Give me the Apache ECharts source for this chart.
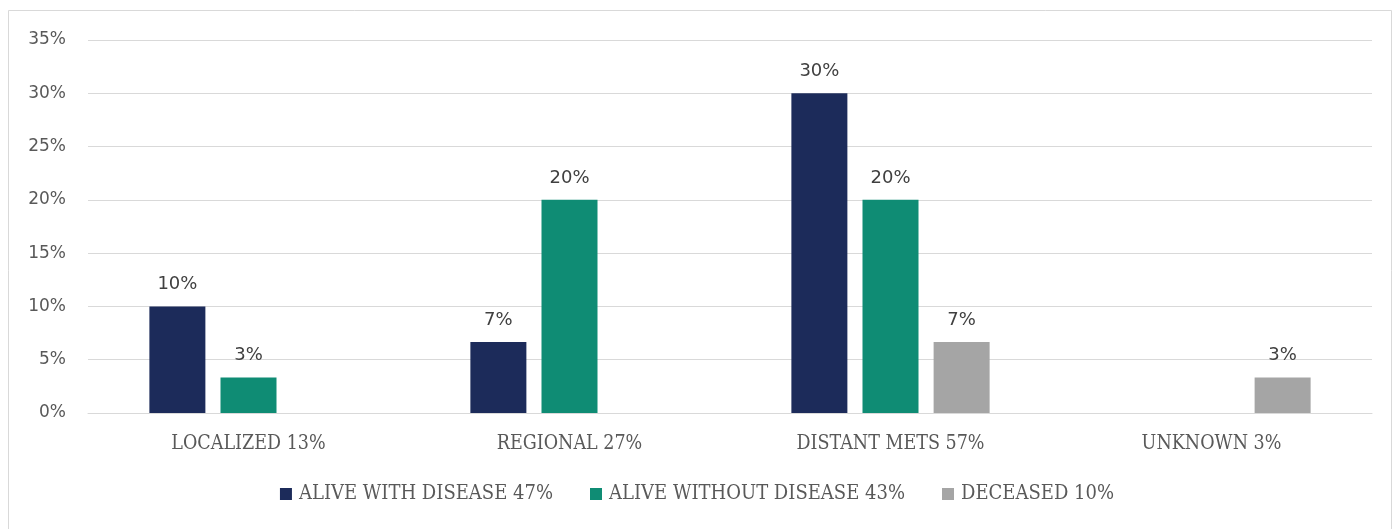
<!DOCTYPE html>
<html>
<head>
<meta charset="utf-8">
<script src="https://cdn.jsdelivr.net/npm/echarts@6/dist/echarts.min.js"></script>
<style>
html,body{margin:0;padding:0;background:#fff;}
#chart{width:1394px;height:529px;}
</style>
</head>
<body>
<div id="chart"></div>
<script>
const categories = ['LOCALIZED 13%', 'REGIONAL 27%', 'DISTANT METS 57%', 'UNKNOWN 3%'];
const seriesNames = ['ALIVE WITH DISEASE 47%', 'ALIVE WITHOUT DISEASE 43%', 'DECEASED 10%'];
const aliveWithDisease = [10, 6.67, 30, null];
const aliveWithoutDisease = [3.33, 20, 20, null];
const deceased = [null, null, 6.67, 3.33];
const yTicks = [0, 5, 10, 15, 20, 25, 30, 35];

const colors = ['#1c2b5a', '#0f8c74', '#a5a5a5'];
const valueFont = 'DejaVu Sans';
const slabFont = 'DejaVu Serif Condensed';

const chart = echarts.init(document.getElementById('chart'));
const dataSets = [aliveWithDisease, aliveWithoutDisease, deceased];

chart.setOption({
  animation: false,
  backgroundColor: '#fff',
  color: colors,
  graphic: [{
    type: 'rect',
    shape: { x: 8.5, y: 10.5, width: 1383, height: 540 },
    style: { fill: 'none', stroke: '#d9d9d9', lineWidth: 1 },
    silent: true,
    z: -1
  }],
  grid: { left: 88, right: 22, top: 40, bottom: 116, containLabel: false },
  legend: {
    bottom: 20,
    left: 'center',
    itemWidth: 12,
    itemHeight: 12,
    itemGap: 37,
    icon: 'rect',
    textStyle: { fontFamily: slabFont, fontSize: 20, color: '#595959', padding: [0, 0, 0, 2] },
    data: seriesNames
  },
  xAxis: {
    type: 'category',
    data: categories,
    axisLine: { show: true, lineStyle: { color: '#d9d9d9', width: 1 } },
    axisTick: { show: false },
    axisLabel: { fontFamily: slabFont, fontSize: 19.5, color: '#595959', margin: 21 }
  },
  yAxis: {
    type: 'value',
    min: yTicks[0],
    max: yTicks[yTicks.length - 1],
    interval: 5,
    axisLine: { show: false },
    axisTick: { show: false },
    splitLine: { lineStyle: { color: '#d9d9d9', width: 1 } },
    axisLabel: { fontFamily: valueFont, fontSize: 17, color: '#595959', margin: 22, formatter: v => v + '%' }
  },
  series: dataSets.map((d, i) => ({
    name: seriesNames[i],
    type: 'bar',
    data: d.map(v => v === null ? '-' : v),
    barWidth: 56,
    barGap: '27%',
    label: {
      show: true,
      position: 'top',
      distance: 13,
      fontFamily: valueFont,
      fontSize: 18,
      color: '#404040',
      formatter: p => Math.round(p.value) + '%'
    }
  }))
});
</script>
</body>
</html>
